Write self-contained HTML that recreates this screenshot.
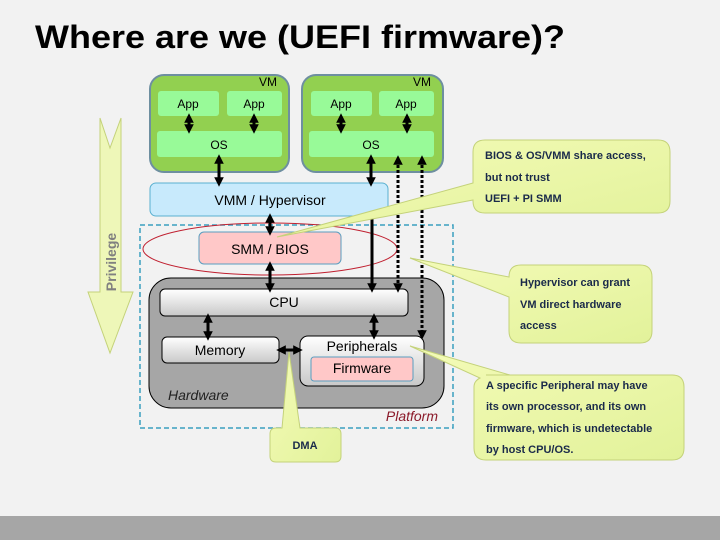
<!DOCTYPE html>
<html><head><meta charset="utf-8"><style>
html,body{margin:0;padding:0;background:#f2f2f2;}
svg{display:block;}
text{font-family:"Liberation Sans",Arial,sans-serif;}
</style></head><body>
<svg width="720" height="540" viewBox="0 0 720 540" xmlns="http://www.w3.org/2000/svg">
<defs>
<linearGradient id="gr" x1="0" y1="0" x2="0" y2="1"><stop offset="0" stop-color="#ffffff"/><stop offset="1" stop-color="#c8c8c8"/></linearGradient>
<linearGradient id="yl" x1="0" y1="0" x2="1" y2="1"><stop offset="0" stop-color="#f4fbb8"/><stop offset="1" stop-color="#e2f29a"/></linearGradient>
<marker id="ah" viewBox="0 0 10 10" refX="5" refY="5" markerWidth="3.2" markerHeight="3.2" orient="auto-start-reverse"><path d="M0,0 L10,5 L0,10 z" fill="#000"/></marker>
</defs>
<rect x="0" y="0" width="720" height="540" fill="#f2f2f2"/>
<rect x="0" y="516" width="720" height="24" fill="#a6a6a6"/>
<text x="35" y="48" font-size="32" font-weight="bold" fill="#000" textLength="530" lengthAdjust="spacingAndGlyphs">Where are we (UEFI firmware)?</text>

<!-- Privilege arrow -->
<path d="M100,118 L110,148 L121,118 L121,292 L133,292 L110,353 L88,292 L100,292 Z" fill="#eef7b8" stroke="#c4d27a" stroke-width="1"/>
<text transform="translate(116,262) rotate(-90)" text-anchor="middle" font-size="14" font-weight="bold" fill="#808080">Privilege</text>

<!-- VMs -->
<rect x="150" y="75" width="139" height="97" rx="14" fill="#92d050" stroke="#6e8fa0" stroke-width="2"/>
<rect x="158" y="91" width="61" height="25" rx="3" fill="#98fa98"/>
<rect x="227" y="91" width="55" height="25" rx="3" fill="#98fa98"/>
<rect x="157" y="131" width="125" height="26" rx="3" fill="#98fa98"/>
<text x="277" y="86" font-size="12" text-anchor="end">VM</text>
<text x="188" y="108" font-size="12" text-anchor="middle">App</text>
<text x="254" y="108" font-size="12" text-anchor="middle">App</text>
<text x="219" y="149" font-size="12" text-anchor="middle">OS</text>

<rect x="302" y="75" width="141" height="97" rx="14" fill="#92d050" stroke="#6e8fa0" stroke-width="2"/>
<rect x="311" y="91" width="61" height="25" rx="3" fill="#98fa98"/>
<rect x="379" y="91" width="55" height="25" rx="3" fill="#98fa98"/>
<rect x="309" y="131" width="125" height="26" rx="3" fill="#98fa98"/>
<text x="431" y="86" font-size="12" text-anchor="end">VM</text>
<text x="341" y="108" font-size="12" text-anchor="middle">App</text>
<text x="406" y="108" font-size="12" text-anchor="middle">App</text>
<text x="371" y="149" font-size="12" text-anchor="middle">OS</text>

<!-- VMM -->
<rect x="150" y="183" width="238" height="33" rx="6" fill="#c8eafc" stroke="#5ab0d0" stroke-width="1"/>
<text x="270" y="205" font-size="14" text-anchor="middle">VMM / Hypervisor</text>

<!-- Platform -->
<rect x="140" y="225" width="313" height="203" fill="none" stroke="#3aa0c0" stroke-width="1.5" stroke-dasharray="5,3"/>
<text x="438" y="421" font-size="14" font-style="italic" fill="#8b1a2a" text-anchor="end">Platform</text>

<!-- SMM -->
<rect x="199" y="232" width="142" height="32" rx="5" fill="#ffc8c8" stroke="#5a9ec0" stroke-width="1"/>
<text x="270" y="254" font-size="14" text-anchor="middle">SMM / BIOS</text>
<ellipse cx="270" cy="249" rx="127" ry="26" fill="none" stroke="#c02030" stroke-width="1"/>

<!-- Hardware -->
<rect x="149" y="278" width="295" height="130" rx="22" fill="#a6a6a6" stroke="#000" stroke-width="1"/>
<text x="168" y="400" font-size="14" font-style="italic" fill="#222">Hardware</text>
<rect x="160" y="289" width="248" height="27" rx="5" fill="url(#gr)" stroke="#000" stroke-width="1"/>
<text x="284" y="307" font-size="14" text-anchor="middle">CPU</text>
<rect x="162" y="337" width="117" height="26" rx="5" fill="url(#gr)" stroke="#000" stroke-width="1"/>
<text x="220" y="355" font-size="14" text-anchor="middle">Memory</text>
<rect x="300" y="336" width="124" height="50" rx="8" fill="url(#gr)" stroke="#000" stroke-width="1"/>
<text x="362" y="351" font-size="14" text-anchor="middle">Peripherals</text>
<rect x="311" y="357" width="102" height="24" rx="3" fill="#ffc8c8" stroke="#5a9ec0" stroke-width="1"/>
<text x="362" y="373" font-size="14" text-anchor="middle">Firmware</text>

<!-- Connectors -->
<g stroke="#000" stroke-width="3" fill="none">
<line x1="189" y1="118" x2="189" y2="129" marker-start="url(#ah)" marker-end="url(#ah)"/>
<line x1="254" y1="118" x2="254" y2="129" marker-start="url(#ah)" marker-end="url(#ah)"/>
<line x1="341" y1="118" x2="341" y2="129" marker-start="url(#ah)" marker-end="url(#ah)"/>
<line x1="407" y1="118" x2="407" y2="129" marker-start="url(#ah)" marker-end="url(#ah)"/>
<line x1="219" y1="159" x2="219" y2="182" marker-start="url(#ah)" marker-end="url(#ah)"/>
<line x1="371" y1="159" x2="371" y2="182" marker-start="url(#ah)" marker-end="url(#ah)"/>
<line x1="270" y1="218" x2="270" y2="231" marker-start="url(#ah)" marker-end="url(#ah)"/>
<line x1="270" y1="266" x2="270" y2="288" marker-start="url(#ah)" marker-end="url(#ah)"/>
<line x1="372" y1="216" x2="372" y2="288" marker-end="url(#ah)"/>
<line x1="208" y1="318" x2="208" y2="336" marker-start="url(#ah)" marker-end="url(#ah)"/>
<line x1="374" y1="318" x2="374" y2="335" marker-start="url(#ah)" marker-end="url(#ah)"/>
<line x1="281" y1="350" x2="298" y2="350" marker-start="url(#ah)" marker-end="url(#ah)"/>
<line x1="398" y1="160" x2="398" y2="288" stroke-dasharray="3,2" marker-start="url(#ah)" marker-end="url(#ah)"/>
<line x1="422" y1="160" x2="422" y2="335" stroke-dasharray="3,2" marker-start="url(#ah)" marker-end="url(#ah)"/>
</g>

<!-- Callouts -->
<g fill="url(#yl)" stroke="#c4d27a" stroke-width="1">
<path d="M485,140 L658,140 Q670,140 670,152 L670,201 Q670,213 658,213 L485,213 Q473,213 473,201 L473,200 L277,237 L473,183 L473,152 Q473,140 485,140 Z"/>
<path d="M521,265 L640,265 Q652,265 652,277 L652,331 Q652,343 640,343 L521,343 Q509,343 509,331 L509,297 L410,258 L509,277 Q509,265 521,265 Z"/>
<path d="M486,375 L672,375 Q684,375 684,387 L684,448 Q684,460 672,460 L486,460 Q474,460 474,448 L474,387 Q474,381 480,378 L410,346 L510,375 Z"/>
<path d="M282,428 L276,428 Q270,428 270,434 L270,456 Q270,462 276,462 L335,462 Q341,462 341,456 L341,434 Q341,428 335,428 L300,428 L289,352 Z"/>
</g>
<g font-size="11" font-weight="bold" fill="#1a2a4a">
<text x="485" y="159">BIOS &amp; OS/VMM share access,</text>
<text x="485" y="181">but not trust</text>
<text x="485" y="202">UEFI + PI SMM</text>
<text x="520" y="286">Hypervisor can grant</text>
<text x="520" y="308">VM direct hardware</text>
<text x="520" y="329">access</text>
<text x="486" y="389">A specific Peripheral may have</text>
<text x="486" y="410">its own processor, and its own</text>
<text x="486" y="432">firmware, which is undetectable</text>
<text x="486" y="453">by host CPU/OS.</text>
<text x="305" y="449" text-anchor="middle">DMA</text>
</g>
</svg>
</body></html>
